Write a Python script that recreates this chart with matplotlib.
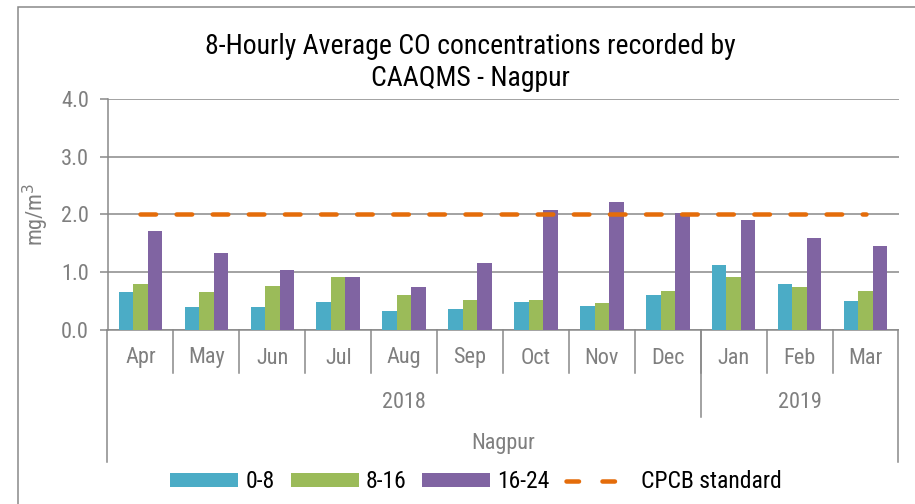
import matplotlib
matplotlib.use('Agg')
import matplotlib.pyplot as plt
import numpy as np
from matplotlib.lines import Line2D
from matplotlib.patches import Rectangle

months = ['Apr', 'May', 'Jun', 'Jul', 'Aug', 'Sep', 'Oct', 'Nov', 'Dec', 'Jan', 'Feb', 'Mar']
years = ['2018', '2019']
year_sizes = [9, 3]
site = 'Nagpur'

co_0_8 = [0.65, 0.39, 0.39, 0.48, 0.33, 0.36, 0.48, 0.42, 0.60, 1.12, 0.79, 0.51]
co_8_16 = [0.79, 0.66, 0.76, 0.92, 0.61, 0.52, 0.52, 0.47, 0.67, 0.92, 0.75, 0.67]
co_16_24 = [1.72, 1.34, 1.04, 0.92, 0.75, 1.16, 2.08, 2.21, 2.02, 1.91, 1.59, 1.45]
cpcb = [2.0] * 12

W, H = 915, 504
font = ['Roboto Condensed', 'Liberation Sans', 'DejaVu Sans']
plt.rcParams['font.family'] = font
grey = '#898989'
label_col = '#7f7f7f'
fs = 16

fig = plt.figure(figsize=(W / 100, H / 100), dpi=100)
# chart border
fig.patches.append(Rectangle((18 / W, -0.1), 1.2, (H - 7) / H + 0.1, transform=fig.transFigure,
                             fill=False, edgecolor=grey, linewidth=1.1))

x0, x1, yb, yt = 107.5, 898.5, 330, 98.7
ax = fig.add_axes([x0 / W, (H - yb) / H, (x1 - x0) / W, (yb - yt) / H])

def ay(py):
    # pixel row -> axes fraction
    return (yb - py) / (yb - yt)

x = np.arange(len(months))
bw = 0.22
b1 = ax.bar(x - bw, co_0_8, bw, color='#4BACC6', zorder=3)
b2 = ax.bar(x, co_8_16, bw, color='#9BBB59', zorder=3)
b3 = ax.bar(x + bw, co_16_24, bw, color='#8064A2', zorder=3)
lw = 3.24
ax.plot(x, cpcb, color='#E46C0A', linewidth=lw, dashes=(11.2 / lw, 14.8 / lw),
        dash_capstyle='round', zorder=4)

ax.set_xlim(-0.5, 11.5)
ax.set_ylim(0, 4)
ax.set_yticks([0, 1, 2, 3, 4])
ax.set_yticklabels(['%.1f' % v for v in [0, 1, 2, 3, 4]], fontsize=fs, color=label_col)
ax.tick_params(axis='y', length=5.5, width=1.1, color=grey, pad=8)
ax.set_xticks([])
ax.grid(axis='y', color=grey, linewidth=1.1, zorder=0)
for s in ['top', 'right']:
    ax.spines[s].set_visible(False)
for s in ['left', 'bottom']:
    ax.spines[s].set_color(grey)
    ax.spines[s].set_linewidth(1.1)

ax.set_ylabel('mg/m$^3$', fontsize=fs, color=label_col, labelpad=7)

tr = ax.get_xaxis_transform()
for i, m in enumerate(months):
    ax.text(i, ay(358), m, transform=tr, ha='center', va='center', fontsize=fs, color=label_col)
for b in np.arange(0.5, 11.5, 1.0):
    ax.add_line(Line2D([b, b], [0, ay(373)], transform=tr, color=grey, lw=1.1, clip_on=False))
start = -0.5
for yr, n in zip(years, year_sizes):
    ax.text(start + n / 2, ay(403), yr, transform=tr, ha='center', va='center',
            fontsize=fs, color=label_col)
    start += n
ax.add_line(Line2D([8.5, 8.5], [0, ay(417)], transform=tr, color=grey, lw=1.1, clip_on=False))
ax.text(5.5, ay(443), site, transform=tr, ha='center', va='center', fontsize=fs, color=label_col)
for b in [-0.5, 11.5]:
    ax.add_line(Line2D([b, b], [0, ay(462)], transform=tr, color=grey, lw=1.1, clip_on=False))

fig.text(470 / W, 1 - 46 / H, '8-Hourly Average CO concentrations recorded by',
         ha='center', va='center', fontsize=20)
fig.text(470 / W, 1 - 79 / H, 'CAAQMS - Nagpur',
         ha='center', va='center', fontsize=20)

# legend: line proxy so that two dashes fit the handle like the original
line_proxy = Line2D([], [], color='#E46C0A', linewidth=lw, dashes=(9.0 / lw, 16.9 / lw),
                    dash_capstyle='round')
fig.legend([b1, b2, b3, line_proxy], ['0-8', '8-16', '16-24', 'CPCB standard'],
           loc='center', bbox_to_anchor=(476 / W, 1 - 482 / H), ncol=4,
           frameon=False, fontsize=17, handlelength=2.88, handleheight=0.57,
           columnspacing=0.68, handletextpad=0.3)

fig.savefig('out.png', dpi=100)
